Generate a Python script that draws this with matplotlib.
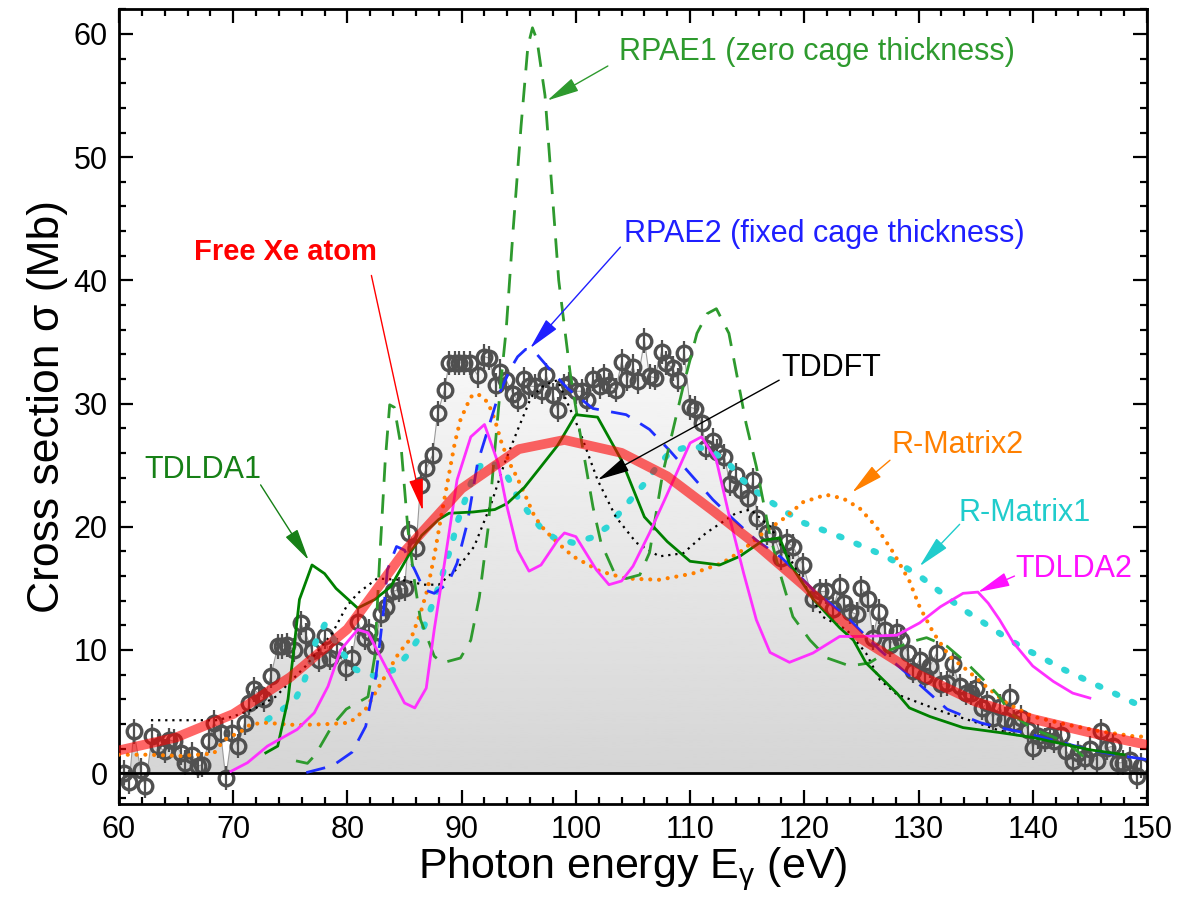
import numpy as np
import matplotlib
matplotlib.use('Agg')
import matplotlib.pyplot as plt
from matplotlib.patches import Polygon
from matplotlib.ticker import MultipleLocator

plt.rcParams['font.family'] = ['Liberation Sans', 'DejaVu Sans']
plt.rcParams['mathtext.fontset'] = 'custom'
plt.rcParams['mathtext.rm'] = 'Liberation Sans'
plt.rcParams['mathtext.it'] = 'Liberation Sans'
plt.rcParams['mathtext.default'] = 'regular'

# experimental points (Xe@C60+)
E_exp = [60.4, 60.9, 61.3, 61.9, 62.3, 62.9, 63.4, 64.0, 64.4, 64.8,
         65.4, 65.8, 66.4, 66.9, 67.3, 67.9, 68.3, 68.9, 69.35, 69.9,
         70.4, 71.0, 71.4, 71.8, 72.3, 72.7, 73.3, 73.9, 74.3, 74.75,
         75.3, 75.9, 76.4, 76.9, 77.5, 78.0, 78.5, 79.1, 79.9, 80.4,
         80.9, 81.5, 81.9, 82.4, 82.9, 83.4, 83.95, 84.5, 85.0, 85.4,
         86.0, 86.4, 86.9, 87.45, 87.9, 88.5, 88.9, 89.4, 89.8, 90.2,
         90.7, 91.4, 92.0, 92.4, 93.0, 93.4, 93.9, 94.5, 94.9, 95.5,
         95.9, 96.4, 97.0, 97.4, 98.0, 98.4, 99.0, 99.4, 100.0, 100.5,
         101.0, 101.5, 102.1, 102.5, 102.9, 103.5, 104.0, 104.5, 105.0, 105.4,
         106.0, 106.45, 106.9, 107.5, 107.9, 108.5, 108.9, 109.5, 110.0, 110.4,
         111.0, 111.4, 112.0, 112.4, 113.0, 113.5, 114.0, 114.5, 115.1, 115.5,
         115.9, 116.7, 117.3, 118.0, 118.45, 119.0, 119.9, 120.75, 121.35, 121.9,
         122.5, 123.1, 123.5, 124.0, 124.6, 125.0, 125.6, 126.0, 126.5, 127.05,
         127.5, 128.1, 128.5, 129.1, 129.5, 130.1, 130.55, 131.0, 131.6, 132.0,
         132.5, 133.0, 133.6, 134.2, 134.6, 135.0, 135.6, 136.0, 136.5, 137.1,
         137.6, 138.0, 138.4, 139.0, 139.6, 140.0, 140.5, 141.1, 141.5, 141.9,
         142.5, 142.95, 143.5, 144.0, 144.6, 145.0, 145.6, 146.0, 146.5, 147.0,
         147.5, 147.9, 148.5, 149.1, 149.5]
S_exp = [0.05, -0.7, 3.4, 0.25, -1.05, 3.0, 2.2, 1.8, 2.7, 2.6,
         1.65, 0.85, 1.5, 0.57, 0.7, 2.6, 4.1, 3.3, -0.4, 3.3,
         2.2, 4.1, 5.7, 6.8, 6.4, 6.0, 7.9, 10.3, 10.3, 10.4,
         10.0, 12.2, 11.2, 9.9, 9.2, 11.1, 9.35, 10.0, 8.5, 9.35,
         12.3, 11.0, 11.5, 10.3, 12.9, 13.5, 14.75, 14.9, 15.0, 19.5,
         18.3, 23.4, 24.75, 25.8, 29.2, 31.1, 33.3, 33.3, 33.3, 33.3,
         33.3, 32.3, 33.8, 33.7, 31.5, 32.6, 31.9, 30.8, 30.3, 32.0,
         31.4, 31.4, 31.0, 32.3, 30.7, 29.5, 31.4, 31.6, 31.0, 31.0,
         30.3, 32.0, 31.4, 32.2, 31.5, 31.1, 33.4, 32.0, 33.0, 31.8,
         35.1, 32.2, 32.1, 34.2, 33.3, 32.85, 31.9, 34.1, 29.7, 29.6,
         28.4, 26.4, 27.0, 26.1, 25.7, 23.5, 24.2, 23.0, 22.3, 23.8,
         20.7, 19.5, 19.4, 17.5, 18.8, 18.4, 16.9, 14.1, 14.75, 14.75,
         13.3, 15.2, 13.8, 13.1, 12.9, 15.0, 14.1, 11.0, 13.1, 11.65,
         10.4, 11.5, 10.8, 9.75, 8.3, 9.2, 7.9, 8.7, 9.75, 7.2,
         7.3, 8.9, 7.05, 6.5, 6.5, 6.9, 5.3, 5.7, 4.5, 5.4,
         4.35, 6.2, 4.1, 4.5, 3.5, 2.05, 3.0, 2.7, 3.1, 2.6,
         3.1, 1.8, 1.0, 1.65, 1.25, 2.0, 1.0, 3.4, 2.05, 2.2,
         0.85, 0.85, 1.1, -0.25, 0.6]
err_exp = 1.0

# free Xe atom
E_free = [60, 65, 70, 75, 80, 85, 90, 95, 99, 104, 108, 112, 116, 120, 125, 130, 135, 140, 145, 150]
S_free = [1.85, 2.9, 4.8, 7.8, 11.7, 18.0, 23.1, 26.3, 27.05, 26.0, 24.1, 21.3, 18.4, 15.2, 10.9, 8.0, 5.8, 4.4, 3.3, 2.3]

# TDLDA1
E_td1 = [72.85, 73.9, 74.8, 75.3, 75.8, 76.9, 78.0, 79.0, 80.9, 82.4,
         83.8, 85.3, 86.5, 88.0, 88.9, 91.0, 92.9, 94.0, 95.5, 96.7,
         98.4, 100.0, 101.9, 104.0, 106.0, 108.0, 110.0, 112.6, 114.35, 116.4,
         117.85, 118.7, 120.8, 123.1, 124.3, 125.4, 128.1, 129.2, 131.0, 133.9,
         137.1, 140.0, 143.0, 145.0, 148.0]
S_td1 = [1.65, 2.2, 6.0, 10.0, 14.1, 16.9, 16.2, 15.0, 13.4, 14.1,
         15.15, 17.6, 19.3, 20.6, 21.1, 21.2, 21.4, 21.9, 23.2, 24.6,
         26.6, 29.1, 28.9, 25.4, 20.8, 18.8, 17.2, 16.9, 17.6, 18.9,
         19.1, 17.05, 14.1, 11.8, 10.8, 8.95, 6.5, 5.3, 4.6, 3.7,
         3.3, 2.9, 2.3, 1.9, 1.5]

# RPAE1 (zero cage thickness)
E_r1 = [75.5, 76.5, 77.2, 78.7, 79.9, 81.8, 82.4, 82.8, 83.3, 83.7,
        84.1, 84.7, 85.3, 85.9, 86.4, 87.6, 88.3, 89.9, 90.8, 91.55,
        92.3, 92.9, 93.45, 93.9, 94.5, 95.2, 95.8, 96.2, 96.6, 97.3,
        97.9, 98.5, 99.5, 100.2, 101.5, 102.2, 103.4, 104.4, 105.6, 106.45,
        107.6, 109.4, 110.6, 111.5, 112.3, 113.4, 114.9, 115.8, 116.95, 117.85,
        119.0, 120.5, 122.0, 124.0, 125.7, 127.5, 129.5, 130.7, 132.5, 134.2,
        136.0, 137.1, 138.0, 140.0, 143.0, 145.0]
S_r1 = [1.0, 0.8, 1.5, 3.9, 5.2, 6.2, 9.5, 17.0, 25.2, 29.9,
        29.7, 26.5, 19.75, 15.4, 12.45, 9.5, 8.95, 9.35, 10.8, 14.3,
        19.75, 26.2, 31.9, 36.0, 44.0, 52.5, 59.0, 60.5, 59.5, 55.0,
        47.5, 40.0, 32.5, 28.5, 21.6, 18.7, 16.2, 15.8, 16.1, 17.9,
        24.3, 31.4, 35.7, 37.3, 37.7, 35.7, 28.4, 24.9, 19.5, 16.3,
        12.7, 10.8, 9.35, 8.7, 8.95, 10.0, 10.7, 11.0, 10.3, 8.95,
        7.3, 6.2, 4.9, 3.6, 2.5, 0.9]

# RPAE2 (fixed cage thickness)
E_r2 = [76.4, 78.7, 80.4, 81.6, 82.5, 83.2, 83.5, 84.3, 85.0, 85.9,
        86.7, 87.6, 88.8, 89.6, 90.5, 91.4, 92.3, 93.2, 94.2, 94.9,
        95.6, 96.4, 97.7, 99.3, 101.5, 104.4, 106.45, 108.2, 110.0, 112.0,
        113.8, 115.8, 118.0, 120.75, 123.7, 126.6, 129.6, 132.5, 135.4, 137.1,
        139.2, 142.1, 145.0, 147.9, 150.0]
S_r2 = [0.05, 0.6, 1.7, 3.8, 7.9, 13.5, 16.5, 18.4, 18.1, 16.5,
        14.9, 14.6, 15.4, 17.05, 20.3, 25.2, 27.9, 30.6, 32.7, 33.8,
        34.4, 34.2, 32.8, 31.2, 29.6, 29.1, 27.9, 26.2, 24.3, 22.2,
        20.6, 18.9, 17.5, 14.9, 12.7, 10.0, 7.6, 5.2, 4.1, 3.7,
        3.3, 2.6, 1.9, 1.4, 1.1]

# TDDFT
E_tf = [62.8, 68.5, 70.0, 72.0, 73.7, 76.35, 78.7, 79.9, 80.9, 82.6,
        84.7, 86.7, 88.0, 89.6, 91.1, 92.6, 93.75, 94.9, 96.1, 97.25,
        98.4, 100.3, 101.9, 103.5, 105.3, 107.3, 109.4, 111.4, 114.0, 115.3,
        117.0, 118.7, 121.6, 123.7, 125.4, 126.6, 128.1, 130.1, 132.4, 134.8,
        136.8, 139.0]
S_tf = [4.3, 4.3, 4.6, 5.3, 6.2, 8.7, 11.4, 13.5, 14.6, 15.8,
        15.7, 15.3, 15.3, 16.6, 18.4, 21.9, 25.15, 27.85, 30.55, 31.5,
        31.9, 27.85, 23.8, 20.8, 18.7, 17.6, 17.85, 19.5, 21.1, 21.4,
        20.0, 17.5, 12.7, 11.65, 9.75, 7.6, 6.4, 5.7, 4.9, 4.2,
        3.55, 3.0]

# R-Matrix1
E_m1 = [73.0, 74.5, 75.5, 76.2, 76.8, 77.2, 78.0, 79.7, 80.75, 82.35,
        84.1, 85.4, 86.4, 87.0, 87.6, 88.2, 88.6, 89.1, 89.6, 90.2,
        90.8, 91.55, 92.6, 94.0, 94.9, 95.9, 96.95, 98.1, 99.75, 101.3,
        102.8, 103.8, 104.8, 106.0, 107.2, 108.3, 110.25, 112.0, 113.5, 114.6,
        115.8, 117.1, 118.4, 120.0, 121.6, 123.4, 125.0, 126.9, 128.5, 130.1,
        131.3, 132.6, 133.9, 135.4, 136.7, 138.0, 139.5, 140.9, 142.4, 143.9,
        145.5, 147.1, 149.0, 150.0]
S_m1 = [4.35, 5.3, 6.1, 7.45, 9.1, 10.6, 12.05, 9.6, 8.4, 7.9,
        8.4, 9.75, 11.2, 12.6, 14.1, 15.7, 17.05, 18.4, 20.3, 21.9,
        23.5, 24.9, 25.3, 24.1, 22.4, 21.1, 19.9, 19.1, 18.7, 19.1,
        20.0, 21.1, 22.2, 23.5, 25.0, 26.1, 26.6, 26.1, 25.0, 23.8,
        22.85, 22.0, 21.2, 20.3, 19.75, 19.1, 18.45, 17.7, 16.9, 16.0,
        15.15, 14.2, 13.3, 12.4, 11.6, 10.8, 10.0, 9.35, 8.55, 7.9,
        7.2, 6.5, 5.65, 5.3]

# R-Matrix2
E_m2 = [60.0, 62.5, 65.4, 68.3, 69.2, 70.7, 71.5, 72.7, 75.6, 78.6,
        80.2, 81.6, 83.7, 84.5, 85.6, 86.4, 87.0, 87.6, 88.2, 88.8,
        89.4, 89.9, 90.8, 91.4, 92.3, 92.9, 93.5, 94.2, 94.8, 95.5,
        96.4, 97.25, 98.4, 99.75, 102.1, 104.4, 107.3, 110.2, 112.8, 114.6,
        116.4, 118.1, 119.9, 121.9, 123.4, 124.85, 126.3, 127.8, 129.2, 130.1,
        131.3, 132.7, 134.2, 135.9, 137.7, 140.0, 142.95, 145.9, 148.8, 150.0]
S_m2 = [1.5, 1.5, 1.4, 1.6, 2.7, 3.4, 3.95, 4.1, 3.9, 4.0,
        4.1, 5.2, 8.5, 9.75, 11.0, 13.0, 14.9, 17.6, 20.8, 23.8,
        26.8, 28.7, 30.55, 30.8, 30.1, 28.7, 26.8, 25.15, 24.1, 22.7,
        20.8, 19.75, 18.7, 17.6, 16.4, 15.8, 15.7, 16.2, 17.05, 18.1,
        19.5, 20.6, 22.0, 22.6, 22.3, 21.5, 20.0, 17.9, 15.6, 13.5,
        11.4, 9.5, 8.4, 7.05, 5.7, 4.6, 3.95, 3.4, 3.0, 2.95]

# TDLDA2
E_t2 = [69.8, 71.25, 73.0, 75.6, 77.1, 78.3, 79.4, 80.9, 81.8, 82.95,
        85.0, 85.9, 86.9, 87.6, 88.5, 89.6, 90.8, 92.0, 93.2, 93.9,
        94.9, 95.9, 96.95, 98.4, 99.0, 100.0, 101.8, 102.9, 104.0, 105.0,
        106.45, 107.9, 110.0, 111.0, 112.3, 113.5, 114.7, 115.8, 117.0, 118.7,
        120.75, 123.1, 125.1, 128.1, 130.1, 131.9, 133.9, 135.2, 136.1, 137.1,
        138.3, 140.0, 141.8, 143.5, 145.0]
S_t2 = [0.15, 0.85, 2.2, 3.55, 4.9, 7.05, 10.0, 11.65, 11.4, 9.35,
        5.7, 5.3, 6.9, 11.65, 17.05, 23.8, 27.3, 28.3, 25.15, 21.9,
        18.1, 16.4, 16.9, 18.9, 19.5, 19.2, 16.5, 15.3, 15.6, 16.8,
        19.5, 22.45, 26.8, 27.3, 25.4, 20.6, 16.2, 12.45, 9.8, 9.0,
        9.75, 11.1, 11.1, 11.2, 12.2, 13.5, 14.6, 14.7, 13.8, 12.45,
        10.6, 8.7, 7.45, 6.5, 6.1]

fig = plt.figure(figsize=(11.85, 9.05), dpi=100)
ax = fig.add_axes([0.1004, 0.1116, 0.8675, 0.8781])

# grey gradient under the experimental curve
poly = Polygon(list(zip([E_exp[0]] + E_exp + [E_exp[-1]], [0] + S_exp + [0])),
               closed=True, facecolor='none', edgecolor='none')
ax.add_patch(poly)
grad = np.linspace(0.83, 0.98, 256).reshape(-1, 1)
im = ax.imshow(grad, extent=[60, 150, -1.5, 36], origin='lower', aspect='auto',
               cmap='gray', vmin=0, vmax=1, zorder=0.5)
im.set_clip_path(poly)

ax.plot(E_exp, S_exp, color='#9a9a9a', lw=0.8, zorder=1)
ax.errorbar(E_exp, S_exp, yerr=err_exp, fmt='o', ms=10.5, mfc='none', mec='#505050',
            mew=2.4, ecolor='#505050', elinewidth=1.6, capsize=0, zorder=2)

ax.axhline(0, color='black', lw=2, zorder=3)

ax.plot(E_m1, S_m1, color='#2ed6d6', lw=4.5, ls=(0, (0.4, 2.6)),
        dash_capstyle='round', zorder=4)
ax.plot(E_m2, S_m2, color='#ff8000', lw=3, ls=(0, (0.01, 2.1)),
        dash_capstyle='round', zorder=4)
ax.plot(E_tf, S_tf, color='black', lw=1.6, ls=(0, (1, 2.2)), zorder=4)
ax.plot(E_r2, S_r2, color='#1f2fff', lw=2, ls=(0, (7, 4.5)), zorder=4)
ax.plot(E_r1, S_r1, color='#2e9a2e', lw=2, ls=(0, (7, 4.5)), zorder=4)
ax.plot(E_td1, S_td1, color='#008000', lw=2, zorder=4)
ax.plot(E_t2, S_t2, color='#ff30ff', lw=2, zorder=4)
ax.plot(E_free, S_free, color='red', lw=7, alpha=0.6, solid_capstyle='butt', zorder=5)

# labels with arrows
def label(text, xy, xytext, color, arrow_from, bold=False, size=22):
    ax.text(xytext[0], xytext[1], text, color=color, fontsize=size,
            fontweight='bold' if bold else 'normal', ha='left', va='center', zorder=6)
    ax.annotate('', xy=xy, xytext=arrow_from,
                arrowprops=dict(arrowstyle='-|>,head_length=1.0,head_width=0.22',
                                color=color, lw=1, mutation_scale=20,
                                shrinkA=0, shrinkB=0), zorder=6)

label('RPAE1 (zero cage thickness)', (97.5, 54.6), (103.8, 58.5), '#2e9a2e', (102.8, 57.4))
label('RPAE2 (fixed cage thickness)', (96.0, 34.5), (104.2, 43.8), '#1f1fff', (103.9, 42.7))
label('Free Xe atom', (86.6, 21.3), (66.6, 42.3), 'red', (82.1, 40.4), bold=True, size=21)
label('TDDFT', (101.9, 23.8), (118.0, 32.9), 'black', (117.8, 31.9))
label('R-Matrix2', (124.2, 22.8), (127.6, 26.6), '#ff8000', (127.5, 25.4))
label('R-Matrix1', (130.1, 16.8), (133.5, 21.1), '#20cccc', (133.6, 20.2))
label('TDLDA2', (135.2, 14.7), (138.5, 16.6), '#ff10ff', (138.4, 16.0))
label('TDLDA1', (76.6, 17.3), (62.2, 24.6), '#168016', (72.4, 23.4))

ax.set_xlim(60, 150)
ax.set_ylim(-2.5, 62)
ax.xaxis.set_major_locator(MultipleLocator(10))
ax.xaxis.set_minor_locator(MultipleLocator(2))
ax.yaxis.set_major_locator(MultipleLocator(10))
ax.yaxis.set_minor_locator(MultipleLocator(2))
ax.tick_params(which='both', direction='in', top=True, right=True, width=1.6)
ax.tick_params(which='major', length=10, labelsize=22, pad=8)
ax.tick_params(which='minor', length=5)
for s in ax.spines.values():
    s.set_linewidth(2)

ax.set_xlabel(r'Photon energy E$_{\gamma}$ (eV)', fontsize=31, labelpad=0)
ax.set_ylabel('Cross section σ (Mb)', fontsize=32, labelpad=4)

fig.savefig('out.png', dpi=100)
